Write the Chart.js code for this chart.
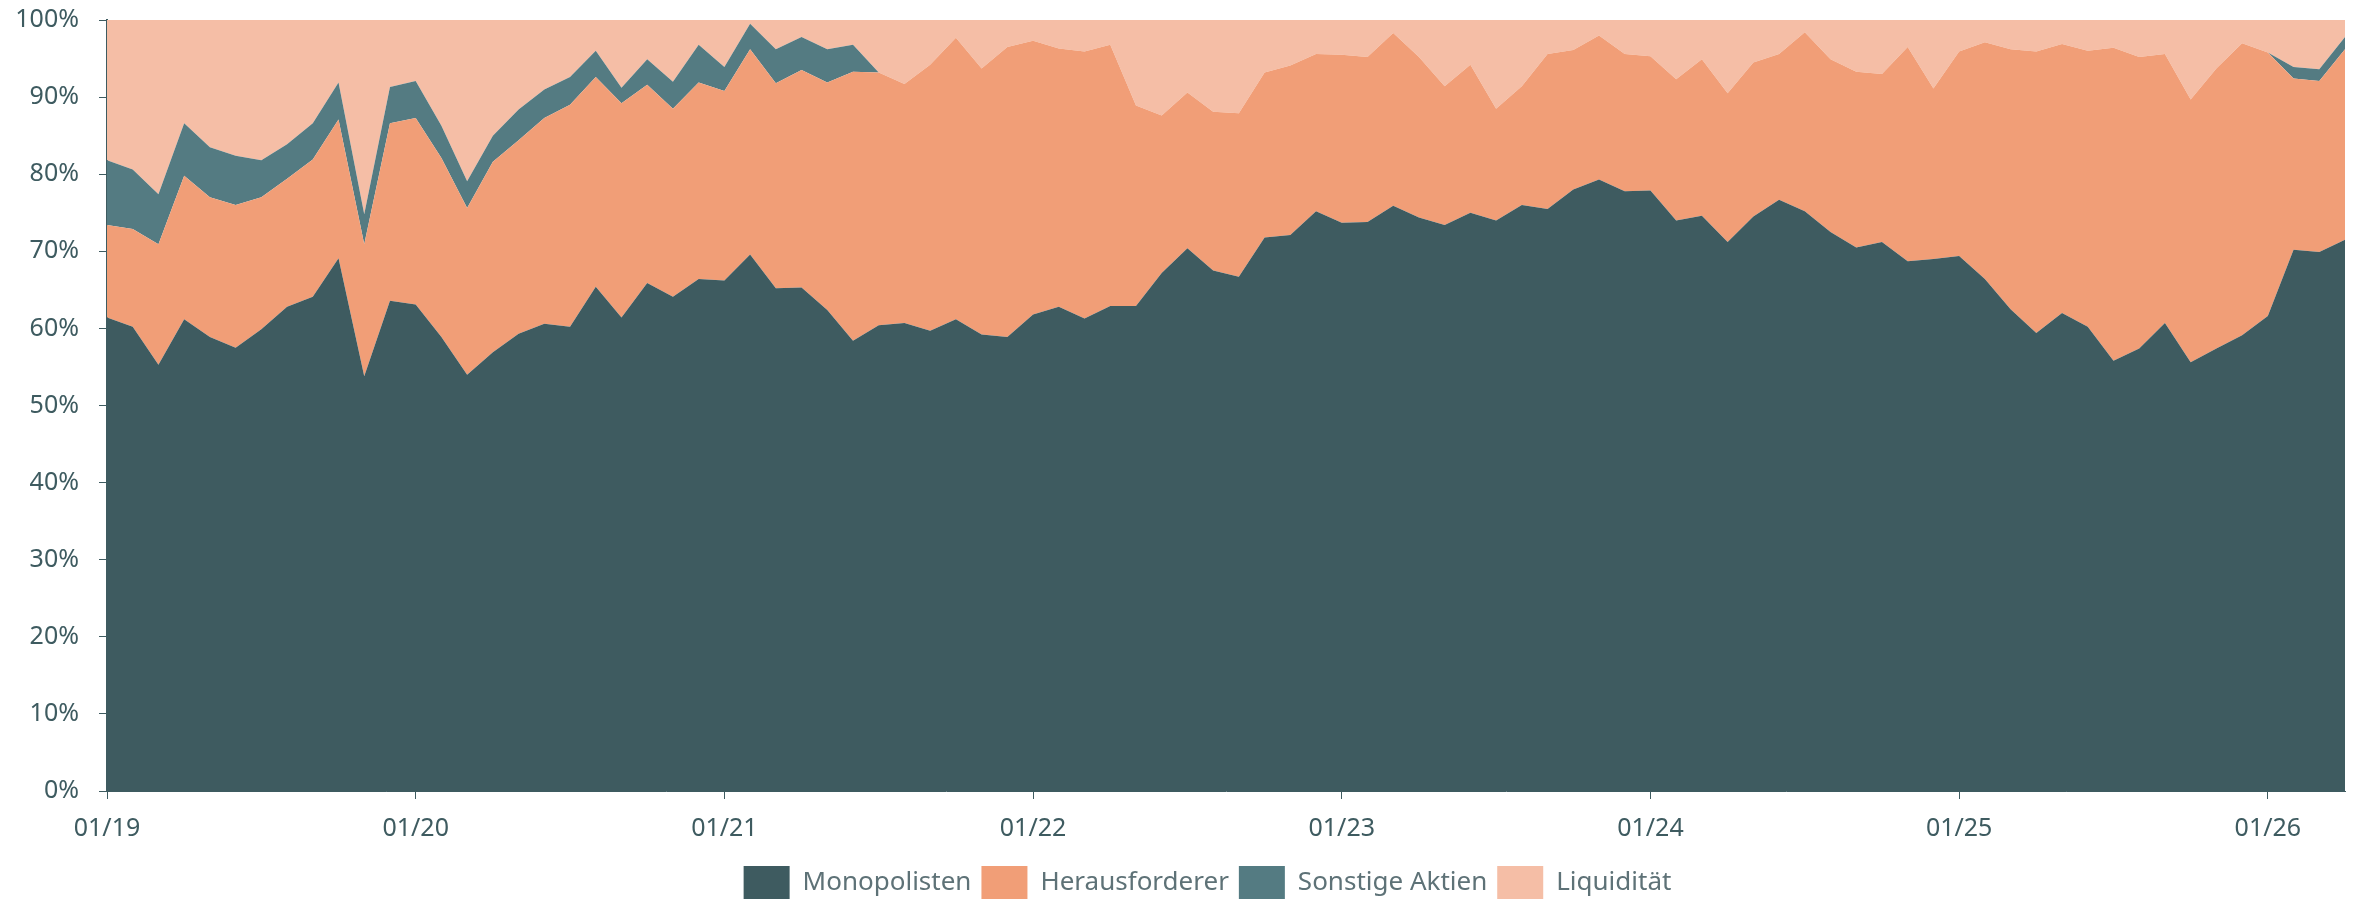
<!DOCTYPE html>
<html lang="de">
<head>
<meta charset="utf-8">
<title>Portfolio-Struktur</title>
<script src="https://cdn.jsdelivr.net/npm/chart.js@4.4.1/dist/chart.umd.min.js"></script>
<style>
  html, body { margin: 0; padding: 0; background: #fff; overflow: hidden; }
  #wrap { width: 2356px; height: 900px; overflow: hidden; }
</style>
</head>
<body>
<div id="wrap">
  <canvas id="chart" width="2356" height="909"></canvas>
</div>
<script>
// Monatswerte 01/19 - 04/26, Anteile in Prozent
const months = [
  '01/19','02/19','03/19','04/19','05/19','06/19','07/19','08/19','09/19','10/19','11/19','12/19',
  '01/20','02/20','03/20','04/20','05/20','06/20','07/20','08/20','09/20','10/20','11/20','12/20',
  '01/21','02/21','03/21','04/21','05/21','06/21','07/21','08/21','09/21','10/21','11/21','12/21',
  '01/22','02/22','03/22','04/22','05/22','06/22','07/22','08/22','09/22','10/22','11/22','12/22',
  '01/23','02/23','03/23','04/23','05/23','06/23','07/23','08/23','09/23','10/23','11/23','12/23',
  '01/24','02/24','03/24','04/24','05/24','06/24','07/24','08/24','09/24','10/24','11/24','12/24',
  '01/25','02/25','03/25','04/25','05/25','06/25','07/25','08/25','09/25','10/25','11/25','12/25',
  '01/26','02/26','03/26','04/26'
];

const monopolisten = [
  61.4, 60.2, 55.3, 61.2, 58.9, 57.5, 59.9, 62.8, 64.1, 69.1, 53.8, 63.6,
  63.1, 58.9, 54.0, 56.9, 59.3, 60.6, 60.2, 65.4, 61.4, 65.9, 64.1, 66.4,
  66.2, 69.6, 65.2, 65.3, 62.4, 58.4, 60.4, 60.7, 59.7, 61.2, 59.2, 58.9,
  61.8, 62.8, 61.3, 62.9, 62.9, 67.2, 70.4, 67.5, 66.7, 71.8, 72.1, 75.2,
  73.7, 73.8, 75.9, 74.4, 73.4, 75.0, 74.0, 76.0, 75.5, 78.0, 79.3, 77.8,
  77.9, 74.0, 74.6, 71.2, 74.5, 76.7, 75.2, 72.5, 70.5, 71.2, 68.7, 69.0,
  69.4, 66.4, 62.5, 59.4, 62.0, 60.2, 55.8, 57.4, 60.7, 55.6, 57.4, 59.1,
  61.6, 70.2, 69.9, 71.5
];

const herausforderer = [
  12.0, 12.7, 15.6, 18.6, 18.1, 18.5, 17.1, 16.6, 17.8, 18.0, 17.1, 23.0,
  24.2, 23.2, 21.6, 24.7, 25.1, 26.7, 28.8, 27.2, 27.8, 25.7, 24.4, 25.5,
  24.6, 26.6, 26.6, 28.2, 29.5, 34.9, 32.8, 31.0, 34.5, 36.5, 34.5, 37.6,
  35.5, 33.5, 34.6, 33.9, 26.0, 20.4, 20.2, 20.6, 21.2, 21.4, 22.0, 20.4,
  21.8, 21.4, 22.4, 20.8, 18.0, 19.2, 14.5, 15.4, 20.1, 18.1, 18.7, 17.8,
  17.4, 18.3, 20.3, 19.3, 20.0, 18.9, 23.2, 22.4, 22.8, 21.8, 27.8, 22.1,
  26.5, 30.7, 33.7, 36.5, 34.9, 35.8, 40.6, 37.8, 34.9, 34.1, 36.3, 37.9,
  34.2, 22.2, 22.2, 24.7
];

const sonstigeAktien = [
  8.4, 7.7, 6.5, 6.8, 6.5, 6.4, 4.8, 4.5, 4.7, 4.8, 3.9, 4.7,
  4.8, 4.2, 3.5, 3.4, 4.0, 3.7, 3.6, 3.4, 2.0, 3.3, 3.5, 4.9,
  3.1, 3.3, 4.4, 4.3, 4.3, 3.5, 0, 0, 0, 0, 0, 0,
  0, 0, 0, 0, 0, 0, 0, 0, 0, 0, 0, 0,
  0, 0, 0, 0, 0, 0, 0, 0, 0, 0, 0, 0,
  0, 0, 0, 0, 0, 0, 0, 0, 0, 0, 0, 0,
  0, 0, 0, 0, 0, 0, 0, 0, 0, 0, 0, 0,
  0, 1.5, 1.5, 1.6
];

const liquiditaet = [
  18.2, 19.4, 22.6, 13.4, 16.5, 17.6, 18.2, 16.1, 13.4, 8.1, 25.2, 8.7,
  7.9, 13.7, 20.9, 15.0, 11.6, 9.0, 7.4, 4.0, 8.8, 5.1, 8.0, 3.2,
  6.1, 0.5, 3.8, 2.2, 3.8, 3.2, 6.8, 8.3, 5.8, 2.3, 6.3, 3.5,
  2.7, 3.7, 4.1, 3.2, 11.1, 12.4, 9.4, 11.9, 12.1, 6.8, 5.9, 4.4,
  4.5, 4.8, 1.7, 4.8, 8.6, 5.8, 11.5, 8.6, 4.4, 3.9, 2.0, 4.4,
  4.7, 7.7, 5.1, 9.5, 5.5, 4.4, 1.6, 5.1, 6.7, 7.0, 3.5, 8.9,
  4.1, 2.9, 3.8, 4.1, 3.1, 4.0, 3.6, 4.8, 4.4, 10.3, 6.3, 3.0,
  4.2, 6.1, 6.4, 2.2
];

const seriesNames = ['Monopolisten', 'Herausforderer', 'Sonstige Aktien', 'Liquidität'];
const seriesColors = ['#3e5b60', '#f19e77', '#547b82', '#f5bea6'];
const seriesData = [monopolisten, herausforderer, sonstigeAktien, liquiditaet];

const axisColor = '#3e5b60';
const fontFamily = '"Noto Sans", "Open Sans", sans-serif';

const datasets = seriesData.map((values, i) => ({
  label: seriesNames[i],
  data: values,
  backgroundColor: seriesColors[i],
  borderColor: seriesColors[i],
  borderWidth: 0,
  pointRadius: 0,
  pointHoverRadius: 0,
  tension: 0,
  fill: i === 0 ? 'origin' : '-1'
}));

// Legende etwas nach rechts schieben (unter die Zeichenfläche zentriert)
const legendShift = {
  id: 'legendShift',
  afterLayout(chart) {
    const lg = chart.legend;
    if (!lg) return;
    lg.left += 35;
    lg.right += 35;
  }
};

new Chart(document.getElementById('chart'), {
  type: 'line',
  data: { labels: months, datasets: datasets },
  plugins: [legendShift],
  options: {
    responsive: false,
    animation: false,
    devicePixelRatio: 1,
    layout: { padding: { top: 20, right: 11, left: 0, bottom: 0 } },
    scales: {
      x: {
        type: 'category',
        offset: false,
        grid: { display: true, drawOnChartArea: false, drawTicks: true, tickLength: 8, color: axisColor, lineWidth: 1 },
        border: { display: true, color: axisColor, width: 1 },
        ticks: {
          autoSkip: false,
          maxRotation: 0,
          padding: 15,
          color: axisColor,
          font: { family: fontFamily, size: 25 },
          // nur Jahresanfang beschriften
          callback: function (value, index) {
            return index % 12 === 0 ? months[index] : null;
          }
        },
        afterFit: (scale) => {
          scale.height = 65;
          scale.paddingLeft = 0;
          scale.paddingRight = 0;
        }
      },
      y: {
        stacked: true,
        min: 0,
        max: 100,
        grid: { display: true, drawOnChartArea: false, drawTicks: true, tickLength: 8, color: axisColor, lineWidth: 1 },
        border: { display: true, color: axisColor, width: 2 },
        ticks: {
          stepSize: 10,
          padding: 20,
          color: axisColor,
          font: { family: fontFamily, size: 25 },
          callback: (v) => v + '%'
        },
        afterFit: (scale) => {
          scale.width = 107;
          scale.paddingTop = 0;
          scale.paddingBottom = 0;
        }
      }
    },
    plugins: {
      legend: {
        position: 'bottom',
        labels: {
          boxWidth: 46,
          boxHeight: 33,
          padding: 10,
          color: '#5e7277',
          font: { family: fontFamily, size: 26 }
        }
      },
      tooltip: { enabled: false }
    }
  }
});
</script>
</body>
</html>
